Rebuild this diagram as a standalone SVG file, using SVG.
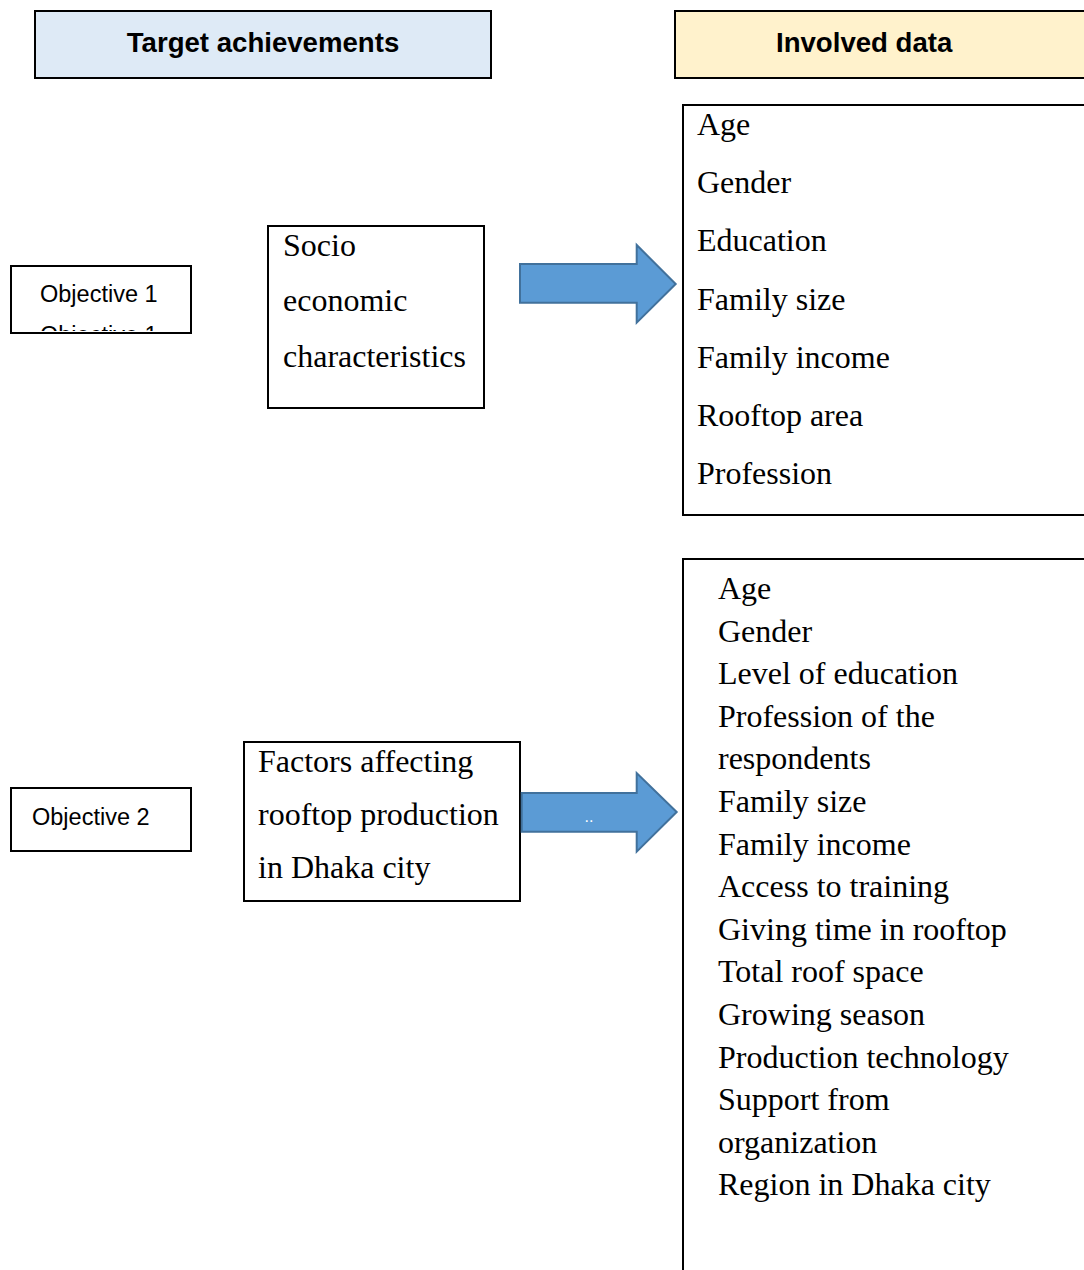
<svg xmlns="http://www.w3.org/2000/svg" width="1084" height="1270" viewBox="0 0 1084 1270">
<style>
.box{fill:#fff;stroke:#000;stroke-width:2}
.hdr{font-family:"Liberation Sans",Arial,sans-serif;font-weight:bold;font-size:27.6px;fill:#000}
.obj{font-family:"Liberation Sans",Arial,sans-serif;font-size:23.5px;fill:#000}
.ser{font-family:"Liberation Serif","Times New Roman",serif;font-size:32px;fill:#000}
.arrow{fill:#5B9BD5;stroke:#41719C;stroke-width:2}
</style>
<defs>
<clipPath id="obj1clip"><rect x="12" y="267" width="178" height="64"/></clipPath>
</defs>
<g id="header-target">
<rect x="35" y="11" width="456" height="67" fill="#DEEAF6" stroke="#000" stroke-width="2"/>
<text class="hdr" x="263" y="52" text-anchor="middle">Target achievements</text>
</g>
<g id="header-data">
<rect x="675" y="11" width="430" height="67" fill="#FFF2CC" stroke="#000" stroke-width="2"/>
<text class="hdr" x="776" y="52">Involved data</text>
</g>
<g id="objective1">
<rect class="box" x="11" y="266" width="180" height="67"/>
<g clip-path="url(#obj1clip)">
<text class="obj" x="40" y="302">Objective 1</text>
<text class="obj" x="40" y="343">Objective 1</text>
</g>
</g>
<g id="socio">
<rect class="box" x="268" y="226" width="216" height="182"/>
<text class="ser" x="283" y="256">Socio</text>
<text class="ser" x="283" y="311">economic</text>
<text class="ser" x="283" y="366.5">characteristics</text>
</g>
<g id="data1">
<rect class="box" x="683" y="105" width="420" height="410"/>
<text class="ser" x="697" y="135">Age</text>
<text class="ser" x="697" y="193">Gender</text>
<text class="ser" x="697" y="251">Education</text>
<text class="ser" x="697" y="309.5">Family size</text>
<text class="ser" x="697" y="367.5">Family income</text>
<text class="ser" x="697" y="425.5">Rooftop area</text>
<text class="ser" x="697" y="484">Profession</text>
</g>
<g id="objective2">
<rect class="box" x="11" y="788" width="180" height="63"/>
<text class="obj" x="32" y="825">Objective 2</text>
</g>
<g id="factors">
<rect class="box" x="244" y="742" width="276" height="159"/>
<text class="ser" x="258" y="771.5">Factors affecting</text>
<text class="ser" x="258" y="824.5">rooftop production</text>
<text class="ser" x="258" y="877.5">in Dhaka city</text>
</g>
<g id="data2">
<rect class="box" x="683" y="559" width="420" height="740"/>
<text class="ser" x="718" y="599">Age</text>
<text class="ser" x="718" y="641.6">Gender</text>
<text class="ser" x="718" y="684.2">Level of education</text>
<text class="ser" x="718" y="726.8">Profession of the</text>
<text class="ser" x="718" y="769.4">respondents</text>
<text class="ser" x="718" y="812">Family size</text>
<text class="ser" x="718" y="854.6">Family income</text>
<text class="ser" x="718" y="897.2">Access to training</text>
<text class="ser" x="718" y="939.8">Giving time in rooftop</text>
<text class="ser" x="718" y="982.4">Total roof space</text>
<text class="ser" x="718" y="1025">Growing season</text>
<text class="ser" x="718" y="1067.6">Production technology</text>
<text class="ser" x="718" y="1110.2">Support from</text>
<text class="ser" x="718" y="1152.8">organization</text>
<text class="ser" x="718" y="1195.4">Region in Dhaka city</text>
</g>
<g id="connectors">
<path class="arrow" d="M520,264 H636.7 V245 L675.7,284 L636.7,322.7 V302.7 H520 Z"/>
<path class="arrow" d="M521.7,793 H636.7 V773 L676.7,812 L636.7,851.7 V831.7 H521.7 Z"/>
<text x="589" y="822" text-anchor="middle" font-family="Liberation Sans,Arial,sans-serif" font-size="16" fill="#fff">..</text>
</g>
</svg>
